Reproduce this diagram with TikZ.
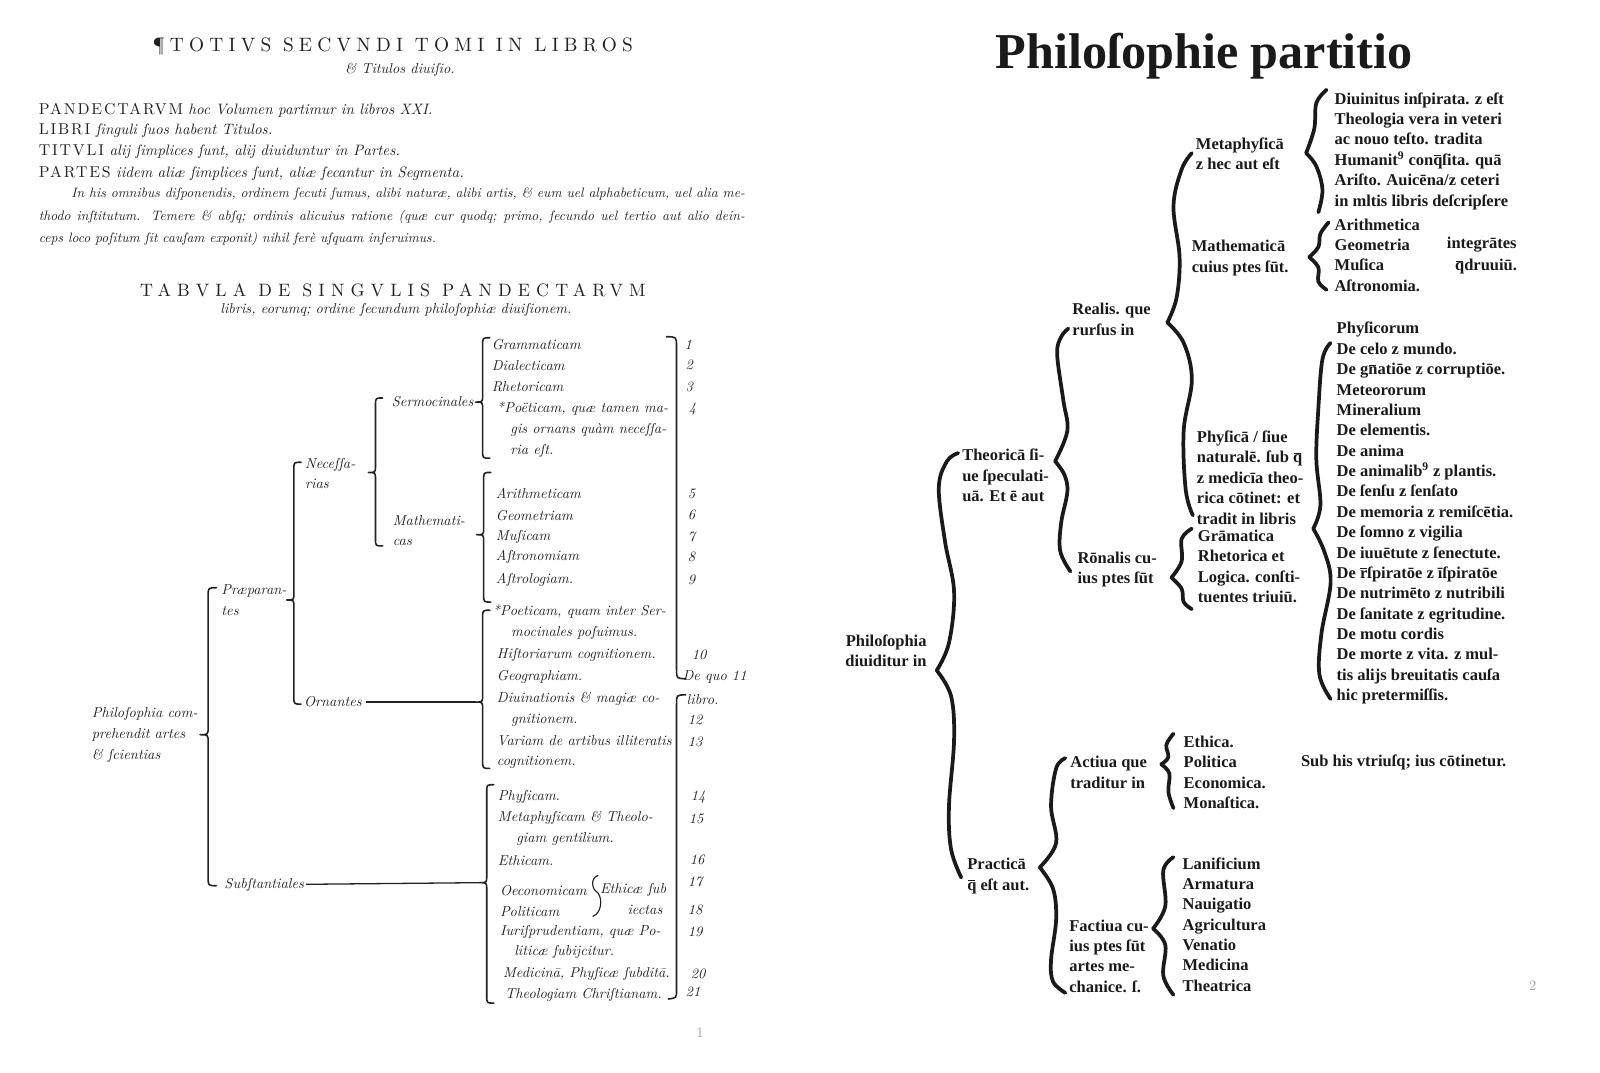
\documentclass[tikz,border=0pt]{standalone}
\usepackage{fontspec}
\usetikzlibrary{calc}
\definecolor{ink}{HTML}{222222}
\definecolor{blackink}{HTML}{1A1A1A}
\definecolor{foliogrey}{HTML}{A0A0A0}
\newfontfamily\spacedcaps[LetterSpace=27]{lmroman10-regular.otf}
\newfontfamily\tabcaps[LetterSpace=34]{lmroman10-regular.otf}
\newfontfamily\linecaps[LetterSpace=12]{lmroman10-regular.otf}
\newfontfamily\gothfont{Liberation Serif}[BoldFont=*, UprightFont=* Bold]
% macron over a letter (abbreviation stroke)
\newcommand{\ovl}[1]{\ooalign{#1\cr\hidewidth\rule[1.25ex]{.42em}{.09ex}\hidewidth\cr}}
\newcommand{\tironet}{z}
% curly brace: x, top, cusp, bottom, arm
\newcommand{\bracepath}[5]{%
  (#1+#5,#2) .. controls (#1,#2) .. (#1,#2+#5)
  -- (#1,#3-#5) .. controls (#1,#3) .. (#1-#5,#3)
  .. controls (#1,#3) .. (#1,#3+#5)
  -- (#1,#4-#5) .. controls (#1,#4) .. (#1+#5,#4)}

\begin{document}
\begin{tikzpicture}[
  x=0.25mm, y=-0.25mm,
  every node/.style={inner sep=0pt, outer sep=0pt},
  % Styles
  itl/.style={font=\fontsize{10}{14.5}\selectfont\itshape, text=ink, anchor=west, align=left},
  itlsm/.style={font=\fontsize{9.5}{13}\selectfont\itshape, text=ink, anchor=west},
  itlhd/.style={font=\fontsize{10.5}{13}\selectfont\itshape, text=ink, anchor=west},
  numb/.style={font=\fontsize{10}{14.5}\selectfont\itshape, text=ink, anchor=west},
  caphead/.style={font=\fontsize{13.5}{16}\selectfont\spacedcaps, text=ink},
  goth/.style={font=\fontsize{11.5}{14.2}\selectfont\gothfont, text=blackink, anchor=west, align=left},
  folio/.style={font=\fontsize{10}{12}\selectfont, text=foliogrey},
  thinbrace/.style={draw=ink, line width=1.1pt, line cap=round, line join=round},
  inkbrace/.style={draw=blackink, line width=2.6pt, line cap=round, line join=round},
  guide/.style={draw=ink, line width=0.9pt},
]

\fill[white] (0,0) rectangle (1568,1051);
\useasboundingbox (0,0) rectangle (1568,1051);

% === PAGE 1: Header ===
\node[caphead] (head1) at (385,46) {¶TOTIVS SECVNDI TOMI IN LIBROS};
\node[itl, anchor=center] (head2) at (392,68) {\& Titulos diuiſio.};

\node[itlhd] (pand) at (38,108) {{\upshape\linecaps\fontsize{11}{13}\selectfont PANDECTARVM} hoc Volumen partimur in libros XXI.};
\node[itlhd] (libri) at (38,128) {{\upshape\linecaps\fontsize{11}{13}\selectfont LIBRI} ſinguli ſuos habent Titulos.};
\node[itlhd] (tituli) at (38,149) {{\upshape\linecaps\fontsize{11}{13}\selectfont TITVLI} alij ſimplices ſunt, alij diuiduntur in Partes.};
\node[itlhd] (partes) at (38,170) {{\upshape\linecaps\fontsize{11}{13}\selectfont PARTES} iidem aliæ ſimplices ſunt, aliæ ſecantur in Segmenta.};
\node[itlsm] (para1) at (70,190) {\makebox[165mm][s]{In his omnibus diſponendis, ordinem ſecuti ſumus, alibi naturæ, alibi artis, \& eum uel alphabeticum, uel alia me-}};
\node[itlsm] (para2) at (38,213) {\makebox[173mm][s]{thodo inſtitutum. Temere \& abſq; ordinis alicuius ratione (quæ cur quodq; primo, ſecundo uel tertio aut alio dein-}};
\node[itlsm] (para3) at (38,234) {ceps loco poſitum ſit cauſam exponit) nihil ferè uſquam inſeruimus.};

\node[caphead, font=\fontsize{12.5}{15}\selectfont\tabcaps] (tab1) at (385,284) {TABVLA DE SINGVLIS PANDECTARVM};
\node[itl, anchor=center] (tab2) at (388,304) {libris, eorumq; ordine ſecundum philoſophiæ diuiſionem.};

% === PAGE 1: Tree ===
\node[itl] (phil) at (90,720) {Philoſophia com-\\prehendit artes\\\& ſcientias};
\node[itl] (praep) at (217,588) {Præparan-\\tes};
\node[itl] (subst) at (220,867) {Subſtantiales};
\node[itl] (necess) at (299,464) {Neceſſa-\\rias};
\node[itl] (orn) at (298,688) {Ornantes};
\node[itl] (serm) at (384,394) {Sermocinales};
\node[itl] (mathcas) at (385,520) {Mathemati-\\cas};

\node[itl] (gram) at (482,338) {Grammaticam};
\node[itl] (dial) at (482,358) {Dialecticam};
\node[itl] (rhet) at (482,379) {Rhetoricam};
\node[itl] (poet1) at (487,421) {*Poëticam, quæ tamen ma-\\\hspace*{3.3mm}gis ornans quàm neceſſa-\\\hspace*{3.3mm}ria eſt.};

\node[itl] (arith) at (486,484) {Arithmeticam};
\node[itl] (geom) at (486,505) {Geometriam};
\node[itl] (musi) at (486,526) {Muſicam};
\node[itl] (astron) at (486,546) {Aſtronomiam};
\node[itl] (astrol) at (486,568) {Aſtrologiam.};

\node[itl] (poet2) at (483,610) {*Poeticam, quam inter Ser-\\\hspace*{4.5mm}mocinales poſuimus.};
\node[itl] (hist) at (487,642) {Hiſtoriarum cognitionem.};
\node[itl] (geog) at (487,663) {Geographiam.};
\node[itl] (diuin1) at (487,695) {Diuinationis \& magiæ co-\\\hspace*{3.5mm}gnitionem.};
\node[itl] (varia) at (487,737) {Variam de artibus illiteratis\\cognitionem.};

\node[itl] (physi) at (488,781) {Phyſicam.};
\node[itl] (metath) at (488,812) {Metaphyſicam \& Theolo-\\\hspace*{4.5mm}giam gentilium.};
\node[itl] (ethi) at (488,843) {Ethicam.};
\node[itl] (oecon) at (490,873) {Oeconomicam};
\node[itl] (polit) at (490,893) {Politicam};
\node[itl] (juris) at (490,923) {Iuriſprudentiam, quæ Po-\\\hspace*{3.5mm}liticæ ſubijcitur.};
\node[itl] (medic) at (493,954) {Medicinā, Phyſicæ ſubditā.};
\node[itl] (theol) at (495,975) {Theologiam Chriſtianam.};
\node[itl] (ethsub) at (588,872) {Ethicæ ſub};
\node[itl] (iect) at (615,892) {iectas};

% === PAGE 1: Book numbers ===
\foreach \n/\x/\y in {1/671/338, 2/672/358, 3/672/379, 4/675/401, 5/674/484, 6/674/505,
  7/674/526, 8/674/546, 9/674/568, 10/678/642, 12/674/705, 13/674/727, 14/677/781,
  15/675/802, 16/676/843, 17/674/864, 18/674/892, 19/674/913, 20/677/954, 21/672/972}
  \node[numb] (num\n) at (\x,\y) {\n};
\node[numb] (num11) at (669,663) {De quo 11};
\node[numb] (libro) at (673,686) {libro.};

% === PAGE 1: Braces ===
\coordinate (ornTip) at (466,688);
\coordinate (substTip) at (470,865);
\draw[thinbrace] \bracepath{204}{576}{720}{868}{8};
\draw[thinbrace] \bracepath{288}{453}{588}{690}{7};
\draw[thinbrace] \bracepath{368}{390}{463}{535}{7};
\draw[thinbrace] \bracepath{473}{331}{394}{449}{7};
\draw[thinbrace] \bracepath{474}{463}{524}{590}{7};
\draw[thinbrace] \bracepath{473}{598}{688}{753}{7};
\draw[thinbrace] \bracepath{477}{769}{865}{983}{7};
\draw[thinbrace, line width=0.8pt] (586,858) .. controls (579,860) and (579,871) .. (586,875)
  .. controls (591,882) and (589,895) .. (581,898);
\draw[guide, shorten <=1mm] (orn) -- (ornTip);
\draw[guide, shorten <=0.5mm] (subst) -- (substTip);
\draw[thinbrace] (653,330) .. controls (663,330) .. (663,340) -- (663,656) .. controls (663,665) .. (672,665);
\draw[thinbrace] (672,681) .. controls (663,681) .. (663,690) -- (663,970) .. controls (663,978) .. (655,979);

\node[folio] (pg1) at (686,1012) {1};

% === PAGE 2: Title ===
\node[goth, anchor=center, font=\fontsize{35}{40}\selectfont\gothfont] (title2) at (1180,55) {Philoſophie partitio};

% === PAGE 2: Tree ===
\node[goth, anchor=east, align=right] (phil2) at (908,638) {Philoſophia\\diuiditur in};
\node[goth] (theor) at (943,466) {Theoricā ſi-\\ue ſpeculati-\\uā. Et ē aut};
\node[goth] (pract) at (948,857) {Practicā\\\ovl{q} eſt aut.};
\node[goth] (real) at (1051,313) {Realis. que\\rurſus in};
\node[goth] (ration) at (1056,558) {Rōnalis cu-\\ius ptes ſūt};
\node[goth] (metaph) at (1172,151) {Metaphyſicā\\\tironet{} hec aut eſt};
\node[goth] (mathem) at (1168,253) {Mathematicā\\cuius ptes ſūt.};
\node[goth] (physic) at (1173,468) {Phyſicā / ſiue\\naturalē. ſub \ovl{q}\\\tironet{} medicīa theo-\\rica cōtinet: et\\tradit in libris};

\node[goth] (diuin) at (1308,148) {Diuinitus inſpirata. \tironet{} eſt\\Theologia vera in veteri\\ac nouo teſto. tradita\\Humanit\textsuperscript{9} con\ovl{q}ſita. quā\\Ariſto. Auicēna/\tironet{} ceteri\\in mltis libris deſcripſere};
\node[goth] (quadr) at (1308,250) {Arithmetica\\Geometria\\Muſica\\Aſtronomia.};
\node[goth] (integr) at (1418,240) {integrātes};
\node[goth] (quadru) at (1426,260) {\ovl{q}druuiū.};

\node[goth] (physlib) at (1310,503) {Phyſicorum\\De celo \tironet{} mundo.\\De g\ovl{n}atiōe \tironet{} corruptiōe.\\Meteororum\\Mineralium\\De elementis.\\De anima\\De animalib\textsuperscript{9} \tironet{} plantis.\\De ſenſu \tironet{} ſenſato\\De memoria \tironet{} remiſcētia.\\De ſomno \tironet{} vigilia\\De iuuētute \tironet{} ſenectute.\\De \ovl{r}ſpiratōe \tironet{} īſpiratōe\\De nutrimēto \tironet{} nutribili\\De ſanitate \tironet{} egritudine.\\De motu cordis\\De morte \tironet{} vita. \tironet{} mul-\\tis alijs breuitatis cauſa\\hic pretermiſſis.};
\node[goth] (triv) at (1174,555) {Grāmatica\\Rhetorica et\\Logica. conſti-\\tuentes triuiū.};

\node[goth] (actiua) at (1049,757) {Actiua que\\traditur in};
\node[goth] (moral) at (1160,757) {Ethica.\\Politica\\Economica.\\Monaſtica.};
\node[goth] (subhis) at (1275,747) {Sub his vtriuſq; ius cōtinetur.};
\node[goth] (factiua) at (1048,937) {Factiua cu-\\ius ptes ſūt\\artes me-\\chanice. ſ.};
\node[goth] (mech) at (1159,906) {Lanificium\\Armatura\\Nauigatio\\Agricultura\\Venatio\\Medicina\\Theatrica};

% === PAGE 2: Braces ===
\draw[inkbrace] plot[smooth, tension=0.6] coordinates {(939,444) (928,452) (920,478) (926,530) (935,580) (930,630) (918,657)};
\draw[inkbrace] plot[smooth, tension=0.6] coordinates {(918,657) (932,682) (935,725) (930,790) (932,832) (942,860)};
\draw[inkbrace] plot[smooth, tension=0.6] coordinates {(1047,322) (1040,330) (1036,347) (1042,392) (1046,422) (1034,452)};
\draw[inkbrace] plot[smooth, tension=0.6] coordinates {(1034,452) (1043,465) (1046,482) (1040,512) (1039,540) (1049,560)};
\draw[inkbrace] plot[smooth, tension=0.6] coordinates {(1168,150) (1158,166) (1150,202) (1156,252) (1153,292) (1144,316)};
\draw[inkbrace] plot[smooth, tension=0.6] coordinates {(1144,316) (1160,336) (1168,372) (1160,422) (1162,480) (1169,505)};
\draw[inkbrace] plot[smooth, tension=0.6] coordinates {(1300,88) (1290,101) (1288,126) (1280,150)};
\draw[inkbrace] plot[smooth, tension=0.6] coordinates {(1280,150) (1290,163) (1296,186) (1292,208)};
\draw[inkbrace] plot[smooth, tension=0.6] coordinates {(1302,218) (1294,229) (1292,242) (1283,252)};
\draw[inkbrace] plot[smooth, tension=0.6] coordinates {(1283,252) (1292,262) (1292,276) (1300,284)};
\draw[inkbrace] plot[smooth, tension=0.6] coordinates {(1304,336) (1296,352) (1292,400) (1290,450) (1294,495) (1287,518)};
\draw[inkbrace] plot[smooth, tension=0.6] coordinates {(1287,518) (1298,541) (1304,571) (1295,621) (1293,661) (1304,685)};
\draw[inkbrace] plot[smooth, tension=0.6] coordinates {(1168,518) (1158,528) (1158,550) (1148,566)};
\draw[inkbrace] plot[smooth, tension=0.6] coordinates {(1148,566) (1158,577) (1160,590) (1168,597)};
\draw[inkbrace] plot[smooth, tension=0.6] coordinates {(1044,743) (1035,753) (1030,790) (1035,826) (1019,850)};
\draw[inkbrace] plot[smooth, tension=0.6] coordinates {(1019,850) (1032,871) (1035,901) (1030,941) (1032,962) (1044,973)};
\draw[inkbrace] plot[smooth, tension=0.6] coordinates {(1150,719) (1143,730) (1145,742) (1138,749)};
\draw[inkbrace] plot[smooth, tension=0.6] coordinates {(1138,749) (1146,758) (1145,776) (1150,792)};
\draw[inkbrace] plot[smooth, tension=0.6] coordinates {(1150,840) (1140,853) (1142,888) (1130,910)};
\draw[inkbrace] plot[smooth, tension=0.6] coordinates {(1130,910) (1142,926) (1140,956) (1150,975)};

\node[folio] (pg2) at (1502,966) {2};

\end{tikzpicture}
\end{document}
